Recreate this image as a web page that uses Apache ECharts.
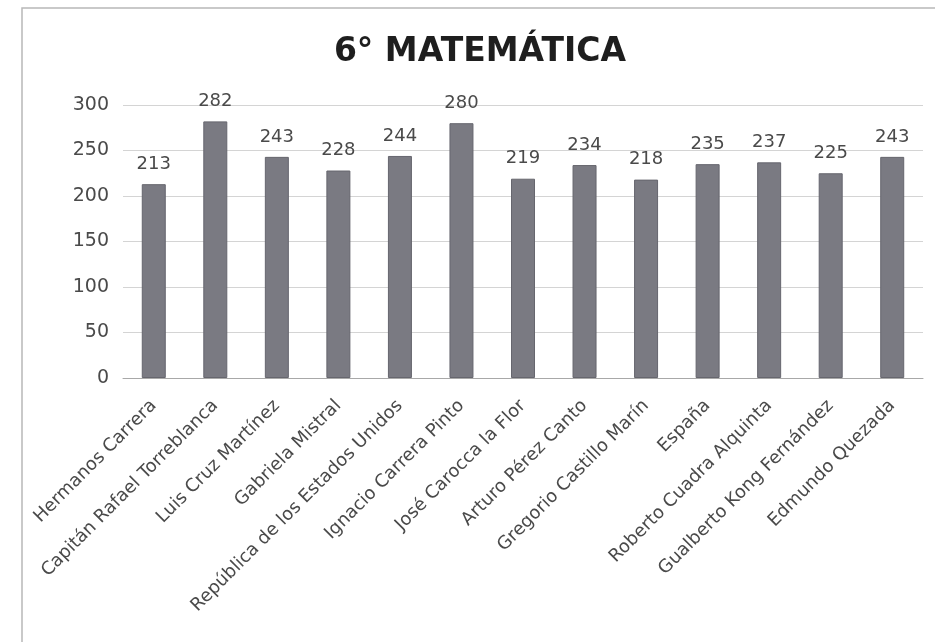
<!DOCTYPE html>
<html>
<head>
<meta charset="utf-8">
<script src="https://cdn.jsdelivr.net/npm/echarts@6/dist/echarts.min.js"></script>
<style>
  html, body { margin: 0; padding: 0; background: #fff; }
  #chart { width: 935px; height: 642px; }
</style>
</head>
<body>
<div id="chart"></div>
<script>
const categories = [
  'Hermanos Carrera',
  'Capitán Rafael Torreblanca',
  'Luis Cruz Martínez',
  'Gabriela Mistral',
  'República de los Estados Unidos',
  'Ignacio Carrera Pinto',
  'José Carocca la Flor',
  'Arturo Pérez Canto',
  'Gregorio Castillo Marín',
  'España',
  'Roberto Cuadra Alquinta',
  'Gualberto Kong Fernández',
  'Edmundo Quezada'
]
const puntajes = [213, 282, 243, 228, 244, 280, 219, 234, 218, 235, 237, 225, 243]
const yTicks = [0, 50, 100, 150, 200, 250, 300]

const chart = echarts.init(document.getElementById('chart'))

const option = {
  animation: false,
  backgroundColor: '#fff',
  title: {
    text: '6° MATEMÁTICA',
    left: 475,
    top: 31,
    textAlign: 'center',
    textStyle: {
      fontFamily: 'DejaVu Sans',
      fontSize: 33,
      fontWeight: 'bold',
      color: '#1e1e1e'
    }
  },
  graphic: [
    {
      type: 'rect',
      shape: { x: 22, y: 8, width: 930, height: 650 },
      style: { fill: 'none', stroke: '#b8b8b8', lineWidth: 1.5 },
      silent: true
    }
  ],
  grid: {
    left: 123,
    right: 12,
    top: 105,
    bottom: 264
  },
  xAxis: {
    type: 'category',
    data: categories,
    axisTick: { show: false },
    axisLine: { lineStyle: { color: '#a8a8a8', width: 1 } },
    axisLabel: {
      interval: 0,
      rotate: 45,
      margin: 25,
      fontFamily: 'DejaVu Sans',
      fontSize: 18,
      color: '#4a4a4a'
    }
  },
  yAxis: {
    type: 'value',
    min: yTicks[0],
    max: yTicks[yTicks.length - 1],
    interval: 50,
    axisLine: { show: false },
    axisTick: { show: false },
    splitLine: { lineStyle: { color: '#d4d4d4', width: 1 } },
    axisLabel: {
      margin: 14,
      fontFamily: 'DejaVu Sans',
      fontSize: 19,
      color: '#4a4a4a'
    }
  },
  series: [
    {
      type: 'bar',
      data: puntajes,
      barWidth: 24,
      itemStyle: {
        color: '#7a7a82',
        borderColor: '#66666e',
        borderWidth: 1
      },
      label: {
        show: true,
        position: 'top',
        distance: 11,
        fontFamily: 'DejaVu Sans',
        fontSize: 18,
        color: '#4a4a4a'
      }
    }
  ]
}

chart.setOption(option)
</script>
</body>
</html>
